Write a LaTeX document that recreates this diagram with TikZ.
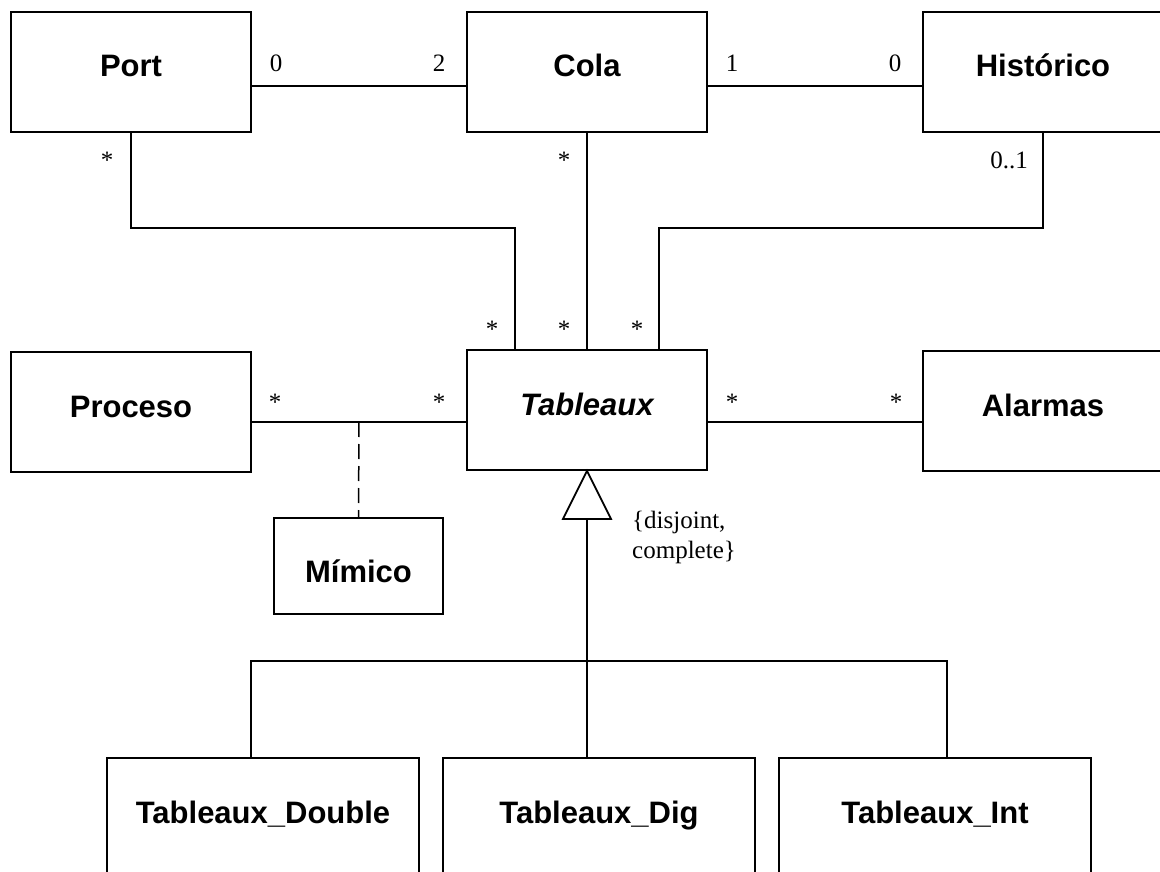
\documentclass[tikz,border=0pt]{standalone}
\usepackage{fontspec}
\setmainfont{Liberation Serif}
\setsansfont{Liberation Sans}
\usetikzlibrary{calc}
\begin{document}
\begin{tikzpicture}[x=1pt,y=-1pt,
  cls/.style={draw, line width=1.8pt, fill=white, inner sep=0pt,
    minimum width=240pt, text height=65pt, text depth=55pt,
    font=\fontsize{31}{37}\selectfont\sffamily\bfseries},
  wire/.style={line width=1.8pt},
  mult/.style={inner sep=0pt, anchor=base, font=\fontsize{25}{30}\selectfont}]
\useasboundingbox (0,0) rectangle (1160,872);
\clip (0,0) rectangle (1160,872);

% rows used by the horizontal associations and the bends
\coordinate (toprow) at (0,86);
\coordinate (midrow) at (0,422);

% classes
\node[cls] (port)  at (131,72)  {Port};
\node[cls] (cola)  at (587,72)  {Cola};
\node[cls] (hist)  at (1043,72) {Histórico};
\node[cls] (proc)  at (131,412) {Proceso};
\node[cls] (tab)   at (587,410) {\itshape Tableaux};
\node[cls] (alarm) at (1043,411) {Alarmas};
\node[cls, minimum width=169pt, text height=64pt, text depth=32pt] (mim) at (358.5,566) {Mímico};
\node[cls, minimum width=312pt] (dbl) at (263,818) {Tableaux\_Double};
\node[cls, minimum width=312pt] (dig) at (599,818) {Tableaux\_Dig};
\node[cls, minimum width=312pt] (int) at (935,818) {Tableaux\_Int};

% associations
\draw[wire] (port.east |- toprow) -- (cola.west |- toprow);
\draw[wire] (cola.east |- toprow) -- (hist.west |- toprow);
\draw[wire] (port.south) |- ($(tab.north)+(-72,-121)$) -- ($(tab.north)+(-72,0)$);
\draw[wire] (cola.south) -- (tab.north);
\draw[wire] (hist.south) |- ($(tab.north)+(72,-121)$) -- ($(tab.north)+(72,0)$);
\draw[wire] (proc.east |- midrow) -- (tab.west |- midrow);
\draw[wire] (tab.east |- midrow) -- (alarm.west |- midrow);

% association class
\coordinate (assoc) at ($(proc.east |- midrow)!0.5!(tab.west |- midrow)$);
\draw[line width=1.5pt, dash pattern=on 15pt off 7pt] (assoc) -- (mim.north);

% generalization
\draw[wire, fill=white] (tab.south) -- ++(24,48) -- ++(-48,0) -- cycle;
\coordinate (tri) at ($(tab.south)+(0,48)$);
\draw[wire] (tri) -- ($(dig.north)+(-12,0)$);
\draw[wire] ($(dbl.north)+(-12,0)$) -- ++(0,-96) -| ($(int.north)+(12,0)$);

% multiplicities
\node[mult] (m1) at (276,72) {0};
\node[mult] (m2) at (439,72) {2};
\node[mult] (m3) at (732,72) {1};
\node[mult] (m4) at (895,72) {0};
\node[mult] (m5) at (107,168) {*};
\node[mult] (m6) at (564,168) {*};
\node[mult, anchor=base east] (m7) at (1028,168) {0..1};
\node[mult] (m8) at (492,337) {*};
\node[mult] (m9) at (564,337) {*};
\node[mult] (m10) at (637,337) {*};
\node[mult] (m11) at (275,410) {*};
\node[mult] (m12) at (439,410) {*};
\node[mult] (m13) at (732,410) {*};
\node[mult] (m14) at (896,410) {*};

% constraint on the generalization
\node[mult, anchor=base west] (c1) at (632,528) {\{disjoint,};
\node[mult, anchor=base west] (c2) at (632,558) {complete\}};
\end{tikzpicture}
\end{document}
